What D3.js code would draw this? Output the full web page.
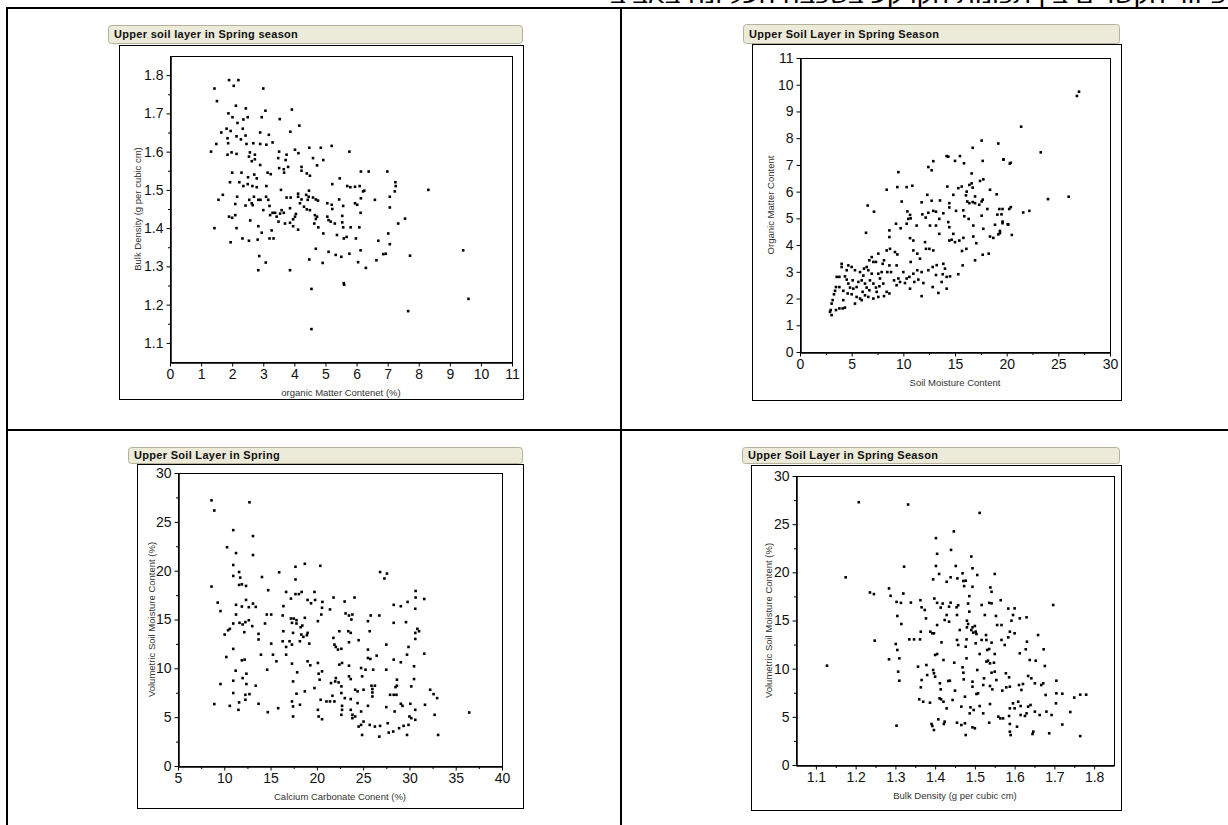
<!DOCTYPE html>
<html>
<head>
<meta charset="utf-8">
<script src="https://cdn.jsdelivr.net/npm/d3@7"></script>
<style>
  html, body { margin: 0; padding: 0; background: #fff; }
  svg { display: block; }
  text { font-family: "Liberation Sans", Arial, sans-serif; }
</style>
</head>
<body>
<svg id="chart" width="1228" height="825"></svg>
<script>
// organic matter (%) vs bulk density (g/cm3)
const omBd = [
  [1.32,1.6],[1.43,1.765],[1.51,1.732],[1.49,1.62],[1.9,1.787],[2.05,1.772],[2.2,1.787],[3.0,1.765],[1.88,1.70],[2.12,1.72],
  [2.44,1.713],[2.01,1.69],[2.17,1.675],[2.36,1.684],[2.5,1.69],[2.95,1.69],[3.07,1.707],[3.92,1.71],[3.53,1.685],[3.87,1.652],
  [4.16,1.668],[1.82,1.66],[1.95,1.654],[1.65,1.65],[2.34,1.66],[2.9,1.65],[3.18,1.644],[1.85,1.635],[2.14,1.64],[2.43,1.642],
  [2.28,1.632],[2.46,1.62],[2.68,1.622],[1.87,1.622],[2.9,1.62],[3.3,1.624],[3.1,1.618],[3.51,1.6],[3.75,1.592],[4.02,1.605],
  [4.13,1.596],[4.48,1.61],[4.85,1.61],[5.2,1.615],[5.77,1.6],[1.85,1.592],[1.98,1.598],[2.14,1.594],[2.54,1.587],[2.73,1.592],
  [2.57,1.598],[2.63,1.575],[2.73,1.58],[2.9,1.565],[3.48,1.583],[3.72,1.578],[3.8,1.56],[3.51,1.557],[3.66,1.554],[4.23,1.56],
  [4.6,1.583],[4.93,1.578],[4.73,1.564],[4.23,1.55],[3.67,1.545],[3.14,1.545],[3.24,1.541],[2.71,1.54],[2.51,1.533],[2.79,1.53],
  [2.0,1.545],[2.3,1.545],[4.4,1.543],[4.5,1.537],[6.14,1.548],[6.39,1.548],[6.99,1.548],[7.25,1.52],[7.26,1.51],[5.7,1.51],
  [5.46,1.53],[5.22,1.515],[5.8,1.507],[5.95,1.508],[6.1,1.51],[6.25,1.498],[1.93,1.52],[2.23,1.52],[2.36,1.51],[2.5,1.515],
  [2.65,1.51],[2.79,1.507],[3.1,1.51],[4.12,1.49],[3.57,1.5],
  [1.43,1.40],[1.56,1.474],[1.7,1.487],[1.9,1.43],[2.0,1.427],[2.1,1.434],[1.95,1.363],[2.14,1.40],[2.1,1.463],[2.16,1.482],
  [2.43,1.459],[2.33,1.373],[2.55,1.474],[2.63,1.465],[2.58,1.42],[2.54,1.367],[2.66,1.46],[2.7,1.482],[2.84,1.474],[2.84,1.405],
  [2.82,1.37],[2.87,1.327],[2.84,1.29],[2.91,1.474],[2.95,1.388],[3.0,1.447],[3.09,1.482],[3.16,1.474],[3.2,1.458],[3.22,1.434],
  [3.2,1.373],[3.27,1.394],[3.33,1.373],[3.3,1.44],[3.38,1.44],[3.08,1.31],[3.43,1.43],[3.49,1.417],[3.54,1.438],[3.59,1.447],
  [3.66,1.44],[3.7,1.412],[3.75,1.48],[3.88,1.48],[3.86,1.452],[3.86,1.414],[3.96,1.423],[3.96,1.405],[4.02,1.43],[4.05,1.437],
  [4.12,1.396],[4.12,1.482],[4.18,1.465],[4.31,1.456],[4.23,1.475],[4.4,1.449],[4.43,1.474],[4.46,1.482],[4.38,1.487],[4.47,1.498],
  [4.5,1.447],[4.6,1.48],[4.66,1.434],[4.64,1.412],[4.69,1.424],[4.73,1.43],[4.69,1.475],[4.76,1.472],[4.69,1.346],[4.48,1.318],
  [3.86,1.29],[4.55,1.241],[4.55,1.136],[4.77,1.402],[4.91,1.309],[4.93,1.386],[5.06,1.465],[5.06,1.43],[5.1,1.421],[5.1,1.338],
  [5.2,1.461],[5.22,1.45],[5.17,1.417],[5.3,1.412],[5.33,1.33],[5.37,1.382],[5.44,1.475],[5.51,1.325],[5.54,1.432],[5.54,1.415],
  [5.57,1.402],[5.59,1.373],[5.57,1.458],[5.59,1.256],[5.6,1.252],[5.68,1.377],[5.77,1.333],[5.81,1.402],[5.95,1.465],[5.98,1.373],
  [6.02,1.461],[6.05,1.311],[6.09,1.402],[6.14,1.478],[6.13,1.342],[6.13,1.44],[6.21,1.496],[6.3,1.296],[6.59,1.474],[6.64,1.316],
  [6.7,1.367],[6.86,1.332],[6.94,1.333],[7.02,1.386],[7.07,1.454],[7.07,1.358],[7.07,1.482],[7.23,1.496],[7.34,1.412],[7.56,1.425],
  [7.66,1.183],[7.72,1.328],[8.31,1.5],[9.43,1.342],[9.6,1.215]
];

// soil moisture content vs organic matter content
const smOm = [
  [9.52,6.73],[8.39,6.07],[9.42,6.17],[10.32,6.17],[10.87,6.22],[9.84,5.63],[10.39,5.26],[10.65,5.13],[11.84,5.15],[12.16,5.03],
  [12.32,5.88],[12.74,5.66],[12.42,6.92],[12.74,6.8],[12.9,7.14],[14.19,7.33],[14.35,7.31],[15.0,7.15],[15.48,7.33],[15.87,7.06],
  [16.71,7.64],[17.58,7.91],[17.68,7.15],[16.61,6.68],[14.26,6.19],[14.84,5.88],[15.32,6.13],[15.65,6.19],[16.13,6.0],[16.39,6.25],
  [16.61,6.31],[16.71,6.15],[17.42,6.4],[17.74,6.46],[18.39,6.07],[19.03,5.9],[19.19,7.8],[19.68,7.2],[20.3,7.05],[14.45,5.57],
  [14.45,5.41],[15.1,5.28],[15.8,5.3],[16.06,5.86],[16.19,5.63],[16.39,5.57],[16.71,5.61],[16.94,5.57],[16.94,5.82],[17.35,5.51],
  [17.58,5.63],[17.68,5.7],[19.29,5.35],[19.5,5.15],[19.6,5.35],[20.25,5.35],[13.55,5.67],[13.16,5.25],[13.87,5.19],[11.77,5.6],
  [12.42,5.21],[12.9,5.28],[10.71,5.0],[13.48,4.98],
  [6.55,5.48],[7.16,5.25],[6.39,4.46],[8.65,4.55],[8.65,4.3],[9.29,4.8],[9.74,4.63],[10.32,4.8],[10.48,4.98],[10.65,4.26],
  [10.97,4.17],[11.29,4.73],[12.58,4.73],[13.16,4.73],[13.48,4.42],[14.35,4.86],[14.45,4.67],[14.84,4.42],[14.45,4.17],[14.68,4.2],
  [15.0,4.11],[15.42,4.17],[15.81,4.27],[15.9,5.08],[16.32,4.98],[15.68,3.78],[16.1,3.86],[17.06,4.07],[16.77,4.32],[16.77,4.73],
  [17.74,4.61],[17.58,5.1],[18.13,5.35],[18.87,4.76],[18.39,4.32],[18.71,4.27],[19.19,4.4],[19.35,4.45],[19.6,4.82],[20.16,4.77],
  [19.1,5.14],[17.68,3.64],[16.94,3.43],[18.26,3.68],[15.74,3.24],[15.32,2.91],[14.52,2.83],[14.19,2.81],[13.87,3.3],[14.03,3.12],
  [13.81,2.91],[13.71,2.62],[14.19,2.37],[13.39,2.21],[12.84,2.43],[13.16,2.88],[13.23,3.25],[12.84,3.18],[12.42,3.06],[12.52,3.86],
  [12.9,3.8],[12.19,3.86],[12.1,4.11],[11.61,3.49],[11.77,2.99],[11.94,2.58],[11.45,2.71],[11.35,3.06],[11.35,3.68],[10.97,3.8],
  [10.71,3.37],[10.97,2.93],[10.58,2.81],[10.65,2.37],[11.06,2.62],[11.77,2.09],[10.0,2.99],[10.16,2.58],[10.32,2.75],[9.68,2.62],
  [9.35,2.5],[9.52,2.75],[9.1,2.68],[8.81,2.99],[8.45,2.99],[8.65,3.24],[9.35,3.24],[8.39,3.8],[8.71,3.86],[9.19,3.74],
  [9.42,3.65],[8.13,3.43],[8.0,3.3],[7.9,2.99],[7.74,2.75],[7.68,2.46],[8.06,2.56],[8.39,2.25],[8.65,2.19],[8.13,2.09],
  [7.58,2.93],[7.35,3.37],[7.58,3.68],[6.94,3.55],[7.1,3.37],[6.71,3.43],[6.45,3.18],[6.19,3.12],[6.61,3.06],[6.94,2.93],
  [6.77,2.68],[7.1,2.56],[7.35,2.41],[7.42,2.25],[7.58,2.06],[7.1,2.0],[6.61,2.06],[6.29,2.12],[6.06,2.25],[5.81,2.0],
  [5.97,1.94],[5.48,2.06],[5.32,1.81],[5.16,2.37],[5.48,2.43],[5.65,2.62],[5.97,2.68],[6.13,2.86],[5.81,2.99],[5.32,3.06],
  [5.0,3.18],[4.68,3.24],[4.52,3.06],[4.35,2.83],[4.03,3.3],[4.03,3.18],[3.81,2.81],[3.55,2.81],[3.81,2.43],[4.19,2.29],
  [4.68,2.56],[4.84,2.41],[4.61,2.19],[5.0,2.16],[5.1,2.68],[4.52,2.71],[4.19,1.94],[3.48,2.43],[3.39,2.29],[3.29,2.16],
  [3.16,1.94],[3.06,1.81],[2.97,1.57],[2.9,1.5],[3.06,1.38],[3.48,1.57],[3.81,1.63],[4.13,1.63],[4.35,1.66],[6.45,2.41],
  [6.71,2.31],[6.29,2.56],
  [26.8,9.58],[27.0,9.74],[21.4,8.43],[23.3,7.47],[19.7,7.21],[20.4,7.08],[26.0,5.81],[24.0,5.72],[20.4,5.42],[21.6,5.22],
  [22.2,5.28],[19.6,4.88],[20.1,4.78],[20.5,4.38],[19.35,4.53]
];

// calcium carbonate content (%) vs volumetric soil moisture (%)
const ccVsm = [
  [8.62,27.2],[8.92,26.16],[12.72,27.0],[10.97,24.15],[13.1,23.54],[10.3,22.4],[11.27,21.8],[13.1,21.6],[10.97,20.58],[10.97,19.46],
  [11.6,19.86],[11.72,19.29],[11.6,18.54],[11.9,18.6],[12.35,18.44],[14.07,19.35],[14.74,18.0],[15.93,19.83],[8.62,18.37],[9.29,16.73],
  [11.27,16.5],[11.9,16.33],[12.35,17.0],[12.65,16.26],[13.1,16.63],[13.4,16.29],[16.68,17.82],[17.2,17.14],[17.69,20.4],[17.69,19.1],
  [17.69,17.6],[18.06,17.6],[18.36,17.82],[18.7,20.7],[19.0,17.0],[19.37,16.66],[19.81,17.0],[19.74,17.82],[20.37,20.5],[20.6,16.8],
  [21.8,17.25],[23.0,16.84],[24.07,17.25],[26.83,19.86],[27.3,19.2],[27.57,19.7],[28.3,16.5],[29.07,16.36],[29.8,16.8],[30.67,17.92],
  [30.67,17.25],[31.6,17.1],
  [9.59,15.86],[11.27,15.51],[10.97,14.59],[11.64,14.66],[11.98,14.49],[12.28,14.73],[12.65,14.93],[12.16,13.7],[13.02,14.32],[10.04,13.46],
  [10.41,13.9],[10.6,14.04],[13.7,13.53],[13.7,12.95],[14.59,15.51],[15.07,15.51],[14.4,14.59],[13.96,11.4],[15.07,12.53],[15.26,11.4],
  [10.97,11.99],[10.22,11.16],[12.2,10.89],[11.9,10.82],[14.63,9.86],[15.63,10.72],[11.23,9.76],[12.39,9.45],[10.97,8.73],[11.98,9.0],
  [12.39,8.39],[13.4,8.22],[9.59,8.39],[10.97,7.47],[12.28,7.29],[12.72,7.36],[8.92,6.34],[10.6,6.16],[11.6,6.51],[12.28,6.78],
  [11.53,5.75],[13.7,6.37],[14.7,5.51],[15.82,5.92],[16.31,15.41],[16.39,16.37],[17.2,15.1],[17.5,15.1],[17.8,14.93],[17.31,14.66],
  [17.8,14.59],[16.38,13.8],[16.31,12.77],[16.68,12.19],[16.68,11.4],[17.05,12.77],[17.31,12.43],[17.43,13.63],[18.25,14.21],[18.43,14.38],
  [18.32,13.46],[18.54,13.22],[18.92,13.39],[18.7,15.17],[19.0,13.63],[19.18,12.53],[18.17,12.77],[19.0,10.72],[19.29,10.31],[17.31,10.48],
  [17.43,8.66],[17.8,7.4],[17.87,9.59],[17.31,6.61],[17.43,6.1],[17.43,5.07],[18.17,6.27],[18.7,7.64],[19.74,7.98],[20.11,14.83],
  [20.48,15.51],[20.56,16.2],[21.42,16.03],[21.79,13.12],[20.56,9.69],[20.19,9.45],[20.11,10.55],[20.3,8.84],[20.41,6.78],[20.11,5.75],
  [20.56,4.79],[20.19,5.07],[21.04,6.61],[21.42,6.61],[21.53,8.49],[21.68,7.19],[21.9,6.61],[21.98,8.66],[22.05,9.0],[22.35,8.56],
  [22.05,12.19],[21.9,12.43],[22.28,11.92],[22.43,13.8],[22.65,12.0],[23.1,15.62],[23.47,15.41],[23.73,15.0],[23.84,15.51],[23.4,13.8],
  [23.66,13.63],[23.47,12.67],[22.72,10.55],[22.43,10.38],[23.47,10.27],[23.47,9.18],[23.66,8.9],[22.65,8.15],[22.65,7.47],[23.02,6.95],
  [23.66,6.85],[22.72,6.16],[22.72,5.75],[22.65,5.24],[23.66,5.75],[23.84,5.24],[23.84,4.9],[24.14,5.07],[24.14,7.81],[24.4,7.64],
  [24.51,12.88],[24.78,10.03],[24.89,9.18],[25.26,9.86],[25.52,11.92],[25.52,11.06],[25.78,10.96],[25.71,13.8],[25.52,14.83],[25.82,15.41],
  [25.9,8.22],[26.0,7.88],[26.0,7.53],[26.0,7.12],[26.27,8.22],[25.52,6.16],[25.04,7.81],[24.4,6.44],[24.78,5.58],[24.51,4.04],
  [24.78,4.21],[25.04,4.55],[24.89,3.18],[25.71,4.21],[26.27,4.04],[26.83,4.11],[26.75,3.01],[26.08,9.86],[26.46,11.3],[26.75,15.41],
  [27.5,12.43],[27.5,9.86],[27.5,6.03],[27.65,4.38],[27.76,3.42],[27.91,7.29],[28.3,10.89],[28.3,7.29],[28.3,14.66],[28.4,5.58],
  [28.5,8.08],[28.6,7.29],[28.65,8.84],[28.65,8.22],[28.25,3.53],[28.88,3.87],[29.07,10.62],[29.07,6.37],[29.25,6.16],[29.37,4.11],
  [29.63,14.73],[29.74,11.4],[29.9,12.19],[29.74,3.18],[29.9,4.21],[30.0,5.07],[30.2,8.15],[30.1,6.37],[30.2,4.9],[30.5,8.9],
  [30.5,10.21],[30.63,13.01],[30.63,13.63],[30.63,16.1],[30.86,14.04],[31.04,13.8],[30.63,5.75],[30.63,4.73],[31.6,11.5],[31.68,6.27],
  [32.24,7.81],[32.61,7.36],[32.99,6.95],[32.72,5.24],[33.1,3.18],[36.46,5.48]
];

// bulk density (g/cm3) vs volumetric soil moisture (%)
const bdVsm = [
  [1.208,27.28],[1.332,27.04],[1.512,26.17],[1.175,19.48],[1.236,17.91],[1.246,17.74],[1.284,18.33],[1.288,17.56],[1.322,20.59],[1.32,17.8],
  [1.303,16.93],[1.314,16.83],[1.339,16.86],[1.363,17.11],[1.402,23.55],[1.405,21.92],[1.402,20.66],[1.41,19.83],[1.395,19.27],[1.398,17.28],
  [1.405,16.83],[1.419,16.76],[1.414,16.34],[1.429,19.02],[1.439,19.48],[1.44,22.33],[1.447,24.25],[1.452,20.66],[1.456,19.37],[1.458,16.58],
  [1.469,19.9],[1.471,19.1],[1.473,18.57],[1.477,19.13],[1.483,16.76],[1.486,17.53],[1.491,21.64],[1.494,18.5],[1.494,20.42],[1.506,19.72],
  [1.536,16.83],[1.539,18.43],[1.542,17.98],[1.55,19.83],[1.565,17.11],[1.584,16.24],
  [1.128,10.31],[1.248,12.91],[1.284,10.97],[1.305,15.47],[1.315,14.64],[1.307,9.69],[1.31,8.75],[1.303,4.08],[1.301,12.56],[1.305,11.94],
  [1.31,11.07],[1.335,13.04],[1.347,13.04],[1.357,10.21],[1.36,6.82],[1.362,13.04],[1.364,13.84],[1.364,8.06],[1.366,8.82],[1.366,16.37],
  [1.374,16.09],[1.37,6.57],[1.377,15.22],[1.378,10.38],[1.38,9.34],[1.387,6.47],[1.388,13.84],[1.393,13.67],[1.397,13.67],[1.395,9.86],
  [1.397,9.52],[1.4,9.17],[1.391,4.26],[1.393,4.05],[1.397,3.63],[1.4,11.42],[1.405,11.52],[1.405,14.53],[1.408,4.74],[1.412,8.48],
  [1.414,7.85],[1.411,6.92],[1.415,6.82],[1.421,6.57],[1.422,4.26],[1.424,4.5],[1.416,12.73],[1.421,10.9],[1.429,5.88],[1.429,15.57],
  [1.433,8.72],[1.437,8.75],[1.424,15.05],[1.435,14.88],[1.435,16.44],[1.439,16.85],[1.444,6.75],[1.448,10.62],[1.45,7.72],[1.454,16.37],
  [1.455,12.98],[1.458,12.46],[1.455,15.57],[1.462,14.01],[1.455,4.39],[1.466,4.15],[1.466,6.06],[1.469,10.14],[1.471,9.58],[1.472,8.89],
  [1.475,4.33],[1.475,7.09],[1.477,3.11],[1.477,12.28],[1.479,13.04],[1.48,14.29],[1.483,14.64],[1.48,14.98],[1.479,11.07],[1.486,15.92],
  [1.487,5.36],[1.489,5.99],[1.491,14.01],[1.494,14.29],[1.496,13.74],[1.5,14.43],[1.502,13.84],[1.504,13.6],[1.502,12.63],[1.494,8.65],
  [1.494,8.13],[1.497,5.71],[1.5,3.81],[1.494,3.91],[1.504,7.37],[1.506,9.86],[1.508,7.44],[1.512,6.12],[1.512,11.52],[1.517,12.98],
  [1.517,16.61],[1.521,5.36],[1.521,8.3],[1.523,9.0],[1.525,15.57],[1.528,13.49],[1.529,12.98],[1.529,10.73],[1.531,11.94],[1.533,10.83],
  [1.536,12.04],[1.538,10.55],[1.542,9.58],[1.548,10.62],[1.55,9.69],[1.542,12.7],[1.536,4.39],[1.538,8.2],[1.538,6.33],[1.542,16.78],
  [1.55,11.52],[1.544,7.85],[1.553,15.47],[1.554,8.82],[1.556,14.53],[1.559,5.02],[1.564,4.84],[1.567,14.53],[1.567,12.98],[1.569,7.72],
  [1.571,4.84],[1.575,12.46],[1.578,9.52],[1.579,8.06],[1.584,13.25],[1.588,13.84],[1.586,9.1],[1.588,8.13],[1.588,5.88],[1.586,5.09],
  [1.588,4.26],[1.588,3.46],[1.59,3.11],[1.592,14.98],[1.596,15.57],[1.6,13.67],[1.596,6.4],[1.6,5.88],[1.6,16.26],[1.606,3.98],
  [1.611,8.3],[1.609,6.57],[1.615,6.12],[1.615,5.19],[1.613,11.59],[1.613,15.22],[1.617,7.79],[1.621,8.41],[1.626,5.09],[1.63,5.36],
  [1.628,12.01],[1.63,15.33],[1.631,12.8],[1.634,9.24],[1.634,6.06],[1.638,10.9],[1.64,6.23],[1.642,9.0],[1.645,3.22],[1.647,3.46],
  [1.651,5.54],[1.653,10.83],[1.651,8.48],[1.659,13.49],[1.663,5.19],[1.667,8.3],[1.672,8.48],[1.673,12.01],[1.676,10.28],[1.678,7.27],
  [1.68,5.54],[1.687,3.29],[1.693,5.19],[1.697,16.61],[1.705,8.75],[1.705,7.44],[1.704,6.4],
  [1.72,7.4],[1.74,5.5],[1.75,7.0],[1.765,7.3],[1.78,7.3],[1.765,3.0],[1.72,4.2]
];

const titles = [
  "Upper soil layer in Spring season",
  "Upper Soil Layer in Spring Season",
  "Upper Soil Layer in Spring",
  "Upper Soil Layer in Spring Season"
];
const xLabels = ["organic Matter Contenet (%)", "Soil Moisture Content", "Calcium Carbonate Conent (%)", "Bulk Density (g per cubic cm)"];
const yLabels = ["Bulk Density (g per cubic cm)", "Organic Matter Content", "Volumetric Soil Moisture Content (%)", "Volumetric Soil Moisture Content (%)"];

const pageHeading = "פיזור הקשרים בין תכונות הקרקע בשכבה העליונה באביב";

const svg = d3.select("#chart");

// page heading, only its lower edge shows at the top of the page
svg.append("text")
  .attr("x", 1226).attr("y", 3)
  .attr("direction", "rtl")
  .attr("text-anchor", "start")
  .attr("font-size", 19)
  .attr("textLength", 616)
  .attr("lengthAdjust", "spacingAndGlyphs")
  .attr("fill", "#000")
  .text(pageHeading);

// table grid lines
const grid = svg.append("g").attr("stroke", "#000").attr("stroke-width", 2).attr("fill", "none");
grid.append("line").attr("x1", 6).attr("x2", 1228).attr("y1", 8).attr("y2", 8);
grid.append("line").attr("x1", 7).attr("x2", 7).attr("y1", 7).attr("y2", 825);
grid.append("line").attr("x1", 621).attr("x2", 621).attr("y1", 7).attr("y2", 825);
grid.append("line").attr("x1", 6).attr("x2", 1228).attr("y1", 430).attr("y2", 430);

const panels = [
  { bar: [108, 25, 414, 18], frame: [119, 45, 404, 354], plot: [170, 56, 342, 306],
    xDomain: [0, 11], xTicks: d3.range(0, 12), xMinor: [], xFmt: d3.format("d"),
    yDomain: [1.05, 1.85], yTicks: d3.range(1.1, 1.85, 0.1), yMinor: d3.range(1.15, 1.8, 0.1), yFmt: d3.format(".1f"),
    yLabelDx: -33, data: omBd },
  { bar: [743, 24, 376, 19], frame: [752, 44, 369, 356], plot: [800, 58, 310, 294],
    xDomain: [0, 30], xTicks: d3.range(0, 31, 5), xMinor: d3.range(2.5, 30, 5), xFmt: d3.format("d"),
    yDomain: [0, 11], yTicks: d3.range(0, 12), yMinor: [], yFmt: d3.format("d"),
    yLabelDx: -30, data: smOm },
  { bar: [128, 447, 394, 16], frame: [137, 464, 386, 344], plot: [178, 473, 324, 293],
    xDomain: [5, 40], xTicks: d3.range(5, 41, 5), xMinor: d3.range(7.5, 40, 5), xFmt: d3.format("d"),
    yDomain: [0, 30], yTicks: d3.range(0, 31, 5), yMinor: d3.range(2.5, 30, 5), yFmt: d3.format("d"),
    yLabelDx: -27, data: ccVsm },
  { bar: [742, 447, 377, 16], frame: [751, 465, 370, 345], plot: [796, 476, 318, 289],
    xDomain: [1.05, 1.85], xTicks: d3.range(1.1, 1.85, 0.1), xMinor: d3.range(1.15, 1.8, 0.1), xFmt: d3.format(".1f"),
    yDomain: [0, 30], yTicks: d3.range(0, 31, 5), yMinor: d3.range(2.5, 30, 5), yFmt: d3.format("d"),
    yLabelDx: -28, data: bdVsm }
];

panels.forEach((p, i) => {
  const g = svg.append("g");
  const [bx, by, bw, bh] = p.bar;
  const [fx, fy, fw, fh] = p.frame;
  const [px, py, pw, ph] = p.plot;

  // title bar
  g.append("rect")
    .attr("x", bx + 0.5).attr("y", by + 0.5)
    .attr("width", bw).attr("height", bh)
    .attr("rx", 3)
    .attr("fill", "#ECEAD9")
    .attr("stroke", "#B5B19C");
  g.append("text")
    .attr("x", bx + 6).attr("y", by + bh / 2 + 4)
    .attr("font-size", 11)
    .attr("font-weight", "bold")
    .attr("letter-spacing", 0.3)
    .attr("fill", "#111")
    .text(titles[i]);

  // outer frame
  g.append("rect")
    .attr("x", fx + 0.5).attr("y", fy + 0.5)
    .attr("width", fw).attr("height", fh)
    .attr("fill", "#fff")
    .attr("stroke", "#000");

  const x = d3.scaleLinear().domain(p.xDomain).range([px, px + pw]);
  const y = d3.scaleLinear().domain(p.yDomain).range([py + ph, py]);

  // plot border (top & right)
  g.append("rect")
    .attr("x", px + 0.5).attr("y", py + 0.5)
    .attr("width", pw).attr("height", ph)
    .attr("fill", "none")
    .attr("stroke", "#000");

  const gxMinor = g.append("g").attr("transform", `translate(0,${py + ph + 0.5})`)
    .call(d3.axisBottom(x).tickValues(p.xMinor).tickSize(2.5).tickSizeOuter(0).tickFormat(""));
  const gx = g.append("g").attr("transform", `translate(0,${py + ph + 0.5})`)
    .call(d3.axisBottom(x).tickValues(p.xTicks).tickSize(4).tickSizeOuter(0).tickPadding(3).tickFormat(p.xFmt));
  const gyMinor = g.append("g").attr("transform", `translate(${px + 0.5},0)`)
    .call(d3.axisLeft(y).tickValues(p.yMinor).tickSize(2.5).tickSizeOuter(0).tickFormat(""));
  const gy = g.append("g").attr("transform", `translate(${px + 0.5},0)`)
    .call(d3.axisLeft(y).tickValues(p.yTicks).tickSize(4).tickSizeOuter(0).tickPadding(3).tickFormat(p.yFmt));

  [gx, gy, gxMinor, gyMinor].forEach(a => {
    a.selectAll("path,line").attr("stroke", "#000");
    a.selectAll("text")
      .attr("font-family", "'Liberation Sans', Arial, sans-serif")
      .attr("font-size", 14)
      .attr("fill", "#111");
  });

  // axis titles
  g.append("text")
    .attr("x", px + pw / 2).attr("y", py + ph + 34)
    .attr("text-anchor", "middle")
    .attr("font-size", 9.5)
    .attr("fill", "#333")
    .text(xLabels[i]);
  g.append("text")
    .attr("transform", `translate(${px + p.yLabelDx},${py + ph / 2}) rotate(-90)`)
    .attr("text-anchor", "middle")
    .attr("dominant-baseline", "central")
    .attr("font-size", 9.5)
    .attr("fill", "#333")
    .text(yLabels[i]);

  // points
  g.append("g").selectAll("rect")
    .data(p.data)
    .join("rect")
    .attr("x", d => x(d[0]) - 1.3)
    .attr("y", d => y(d[1]) - 1.3)
    .attr("width", 2.6)
    .attr("height", 2.6)
    .attr("fill", "#000");
});
</script>
</body>
</html>
